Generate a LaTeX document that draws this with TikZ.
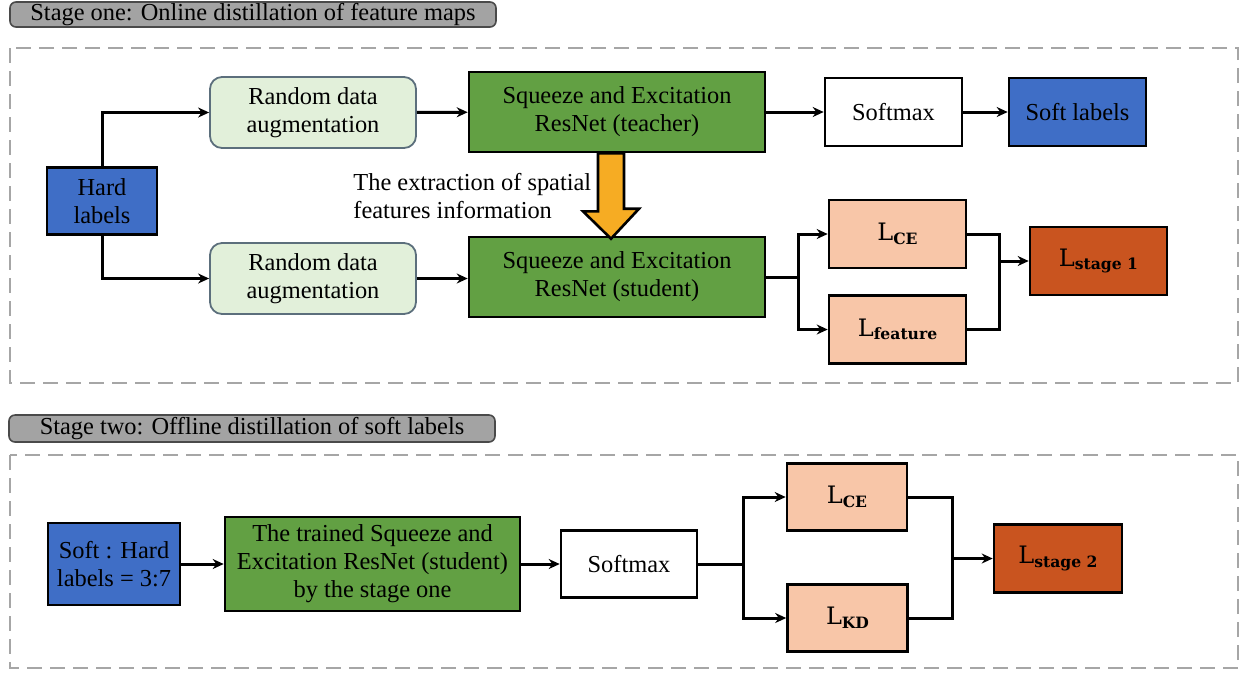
\documentclass[tikz,border=0pt]{standalone}
\usepackage{fontspec}
\setmainfont{Liberation Serif}
\newfontfamily\lossfont{DejaVu Serif}
\usetikzlibrary{arrows.meta,calc}
\definecolor{labelblue}{HTML}{3F6EC6}
\definecolor{augfill}{HTML}{E2F0DA}
\definecolor{augline}{HTML}{5C6F7C}
\definecolor{segreen}{HTML}{62A043}
\definecolor{lossfill}{HTML}{F8C6A8}
\definecolor{totalfill}{HTML}{C9541F}
\definecolor{tabgray}{HTML}{A3A3A3}
\definecolor{tabline}{HTML}{4A4A4A}
\definecolor{framegray}{HTML}{A6A6A6}
\definecolor{bigorange}{HTML}{F6AC23}
\newcommand{\lossname}[1]{{\lossfont L\raisebox{-1.8pt}{\fontsize{7.8}{8}\selectfont\bfseries #1}}}
\tikzset{
  box/.style={draw=black, line width=1.3pt, align=center, inner sep=2pt,
    font=\fontsize{12.2}{14}\selectfont},
  hardbox/.style={box, fill=labelblue},
  augbox/.style={box, draw=augline, line width=0.9pt, fill=augfill,
    rounded corners=6pt, minimum width=103pt, minimum height=35.5pt},
  sebox/.style={box, fill=segreen, minimum width=148pt, minimum height=40pt},
  smbox/.style={box, fill=white, minimum width=68.5pt, minimum height=34pt},
  lossbox/.style={box, fill=lossfill, minimum width=68.5pt, minimum height=34pt,
    font=\fontsize{12}{13}\lossfont},
  totalbox/.style={lossbox, fill=totalfill},
  tab/.style={draw=tabline, fill=tabgray, line width=0.8pt, rounded corners=3pt,
    inner sep=0pt, minimum width=243pt, font=\fontsize{12.2}{14}\selectfont},
  frame/.style={draw=framegray, line width=1pt, dash pattern=on 7.5pt off 4pt},
  line/.style={line width=1.5pt},
  link/.style={line, ->},
}
\begin{document}
\begin{tikzpicture}[x=0.5pt, y=-0.5pt, >={Stealth[length=5.5pt,width=5pt]}]
\useasboundingbox (0,0) rectangle (1241,677);
% stage one
\node[tab, minimum height=12.5pt] (tab1) at (253,14.5) {Stage one: Online distillation of feature maps};
\draw[frame] (10,48) rectangle (1238,383);
\node[hardbox, minimum width=55pt, minimum height=33.5pt] (hard) at (102,201) {Hard\\labels};
\node[augbox] (aug1) at (313,112.5) {Random data\\augmentation};
\node[augbox] (aug2) at (313,278.5) {Random data\\augmentation};
\node[sebox] (teacher) at (617,112) {Squeeze and Excitation\\ResNet (teacher)};
\node[sebox] (student) at (617,277) {Squeeze and Excitation\\ResNet (student)};
\node[smbox] (smax1) at (893.5,112) {Softmax};
\node[hardbox, minimum width=68.5pt, minimum height=34pt] (softlab) at (1077.5,112) {Soft labels};
\node[lossbox] (lce1) at (897.5,234) {\lossname{CE}};
\node[lossbox] (lfeat) at (897.5,329.5) {\lossname{feature}};
\node[totalbox] (lst1) at (1098.5,261) {\lossname{stage 1}};
\node[anchor=west, align=left, inner sep=0pt, font=\fontsize{12.2}{14}\selectfont] (extract) at (353,196)
  {The extraction of spatial\\features information};
\draw[link] (hard.north) |- (aug1.west);
\draw[link] (hard.south) |- (aug2.west);
\draw[link] (aug1) -- (teacher);
\draw[link] (aug2.east) -- (aug2.east -| student.west);
\draw[link] (teacher) -- (smax1);
\draw[link] (smax1) -- (softlab);
\draw[line] (student.east) -- ++(32,0) coordinate (s1);
\draw[link] (s1) |- (lce1.west);
\draw[link] (s1) |- (lfeat.west);
\draw[line] (lce1.east) -- ++(32,0) coordinate (m1) |- (lfeat.east);
\draw[link] (m1 |- lst1.west) -- (lst1.west);
% big arrow teacher -> student
\draw[fill=bigorange, line width=1.3pt, line join=miter]
  ($(teacher.south)+(-19,0)$) -- ++(0,58) -- ++(-15,0)
  -- ($(student.north)+(-6,3)$) -- ++(28,-30) -- ++(-15,0)
  -- ($(teacher.south)+(7,0)$) -- cycle;
% stage two
\node[tab, minimum height=13.5pt] (tab2) at (252,428.5) {Stage two: Offline distillation of soft labels};
\draw[frame] (10,455) rectangle (1238,668);
\node[hardbox, minimum width=66pt, minimum height=41pt] (mix) at (114,564) {Soft : Hard\\labels = 3:7};
\node[sebox, minimum width=147.5pt, minimum height=47pt] (trained) at (372.5,564)
  {The trained Squeeze and\\Excitation ResNet (student)\\by the stage one};
\node[smbox, minimum width=68pt, minimum height=33.5pt] (smax2) at (629,564) {Softmax};
\node[lossbox, minimum width=60pt, minimum height=33.5pt] (lce2) at (847,497) {\lossname{CE}};
\node[lossbox, minimum width=60pt, minimum height=33.5pt] (lkd) at (847.5,618) {\lossname{KD}};
\node[totalbox, minimum width=64pt] (lst2) at (1058,558.5) {\lossname{stage 2}};
\draw[link] (mix) -- (trained);
\draw[link] (trained) -- (smax2);
\draw[line] (smax2.east) -- ++(45,0) coordinate (s2);
\draw[link] (s2) |- (lce2.west);
\draw[link] (s2) |- (lkd.west);
\draw[line] (lce2.east) -- ++(44,0) coordinate (m2) |- (lkd.east);
\draw[link] (m2 |- lst2.west) -- (lst2.west);
\end{tikzpicture}
\end{document}
